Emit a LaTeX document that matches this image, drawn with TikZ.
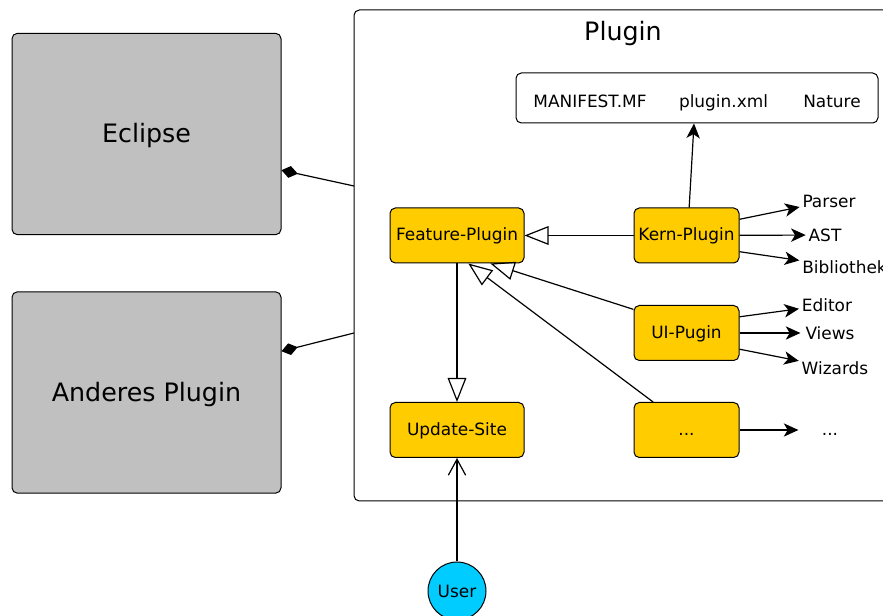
\documentclass[tikz,border=0pt]{standalone}
\usepackage{fontspec}
\setmainfont{DejaVu Sans}
\usetikzlibrary{arrows.meta}

\definecolor{boxgold}{HTML}{FFCC00}
\definecolor{boxgrey}{HTML}{C0C0C0}
\definecolor{usercyan}{HTML}{00CCFF}

\tikzset{
  bigbox/.style={draw=black, fill=boxgrey, rounded corners=4pt, line width=0.75pt,
    minimum width=201.75pt, minimum height=151pt, text height=13.9pt, text depth=1.1pt,
    font=\fontsize{19}{23}\selectfont},
  module/.style={draw=black, fill=boxgold, rounded corners=4pt, line width=0.75pt,
    minimum height=41.25pt, text height=9.5pt, text depth=1.3pt, inner sep=0pt,
    font=\fontsize{12.7}{15}\selectfont},
  leaf/.style={inner sep=2pt, font=\fontsize{12.7}{15}\selectfont},
  gen/.style={-{Triangle[open,length=18pt,width=14pt]}, line width=0.9pt},
  sub/.style={-{Stealth[length=11pt,width=10pt,inset=3pt]}, line width=0.9pt},
  comp/.style={-{Diamond[length=12.5pt,width=9pt]}, line width=0.9pt},
  access/.style={-{Straight Barb[length=12pt,width=13pt]}, line width=0.9pt}
}

\begin{document}
\begin{tikzpicture}[x=0.75pt, y=-0.75pt]
    \useasboundingbox (0,0) rectangle (883,616);

    %outer boxes
    \node[bigbox] (eclipse) at (146.5,134) {Eclipse};
    \node[bigbox] (anderes) at (146.5,392.5) {Anderes Plugin};

    %plugin container
    \draw[rounded corners=4pt, line width=0.75pt] (354,10) rectangle (910,501);
    \node[font=\fontsize{19}{23}\selectfont] (title) at (623,34) {Plugin};
    \coordinate (c1) at (354,186);
    \coordinate (c2) at (354,333);
    \draw[comp] (c1) -- (eclipse.-15);
    \draw[comp] (c2) -- (anderes.17);

    %manifest
    \node[draw=black, rounded corners=4pt, line width=0.75pt, minimum width=271.5pt, minimum height=37.5pt] (manifest) at (697,98) {};
    \node[leaf, anchor=base] (mf) at (590,108) {MANIFEST.MF};
    \node[leaf, anchor=base] (xml) at (723.5,108) {plugin.xml};
    \node[leaf, anchor=base] (nature) at (832,108) {Nature};

    %modules
    \node[module, minimum width=100.5pt] (feature) at (457,235.5) {Feature-Plugin};
    \node[module, minimum width=100.5pt] (update) at (457,430) {Update-Site};
    \node[module, minimum width=78.75pt] (kern) at (686.5,235.5) {Kern-Plugin};
    \node[module, minimum width=78.75pt] (ui) at (686.5,333) {UI-Pugin};
    \node[module, minimum width=78.75pt] (more) at (686.5,430) {...};
    \node[circle, draw=black, fill=usercyan, line width=0.75pt, minimum size=43.5pt, inner sep=0pt,
      font=\fontsize{12.7}{15}\selectfont] (user) at (457,591) {User};

    \draw[gen] (kern) -- (feature);
    \draw[gen] (ui.156) -- (feature.-40);
    \draw[gen] (more.140) -- (feature.-68);
    \draw[gen] (feature) -- (update);
    \draw[access] (user) -- (update);
    \draw[sub] ([xshift=2pt]kern.north) -- ([xshift=-2.25pt]manifest.south);

    %leaves
    \node[leaf] (parser) at (829,201) {Parser};
    \node[leaf] (ast) at (825,235) {AST};
    \node[leaf] (bib) at (844.5,267) {Bibliothek};
    \node[leaf] (editor) at (827,305) {Editor};
    \node[leaf, minimum width=44pt] (views) at (830,333) {Views};
    \node[leaf] (wizards) at (835,368) {Wizards};
    \node[leaf, minimum width=47pt, text height=9.5pt, text depth=1.3pt] (dots) at (830,430) {...};

    \draw[sub] (kern.17) -- (parser);
    \draw[sub] (kern) -- (ast);
    \draw[sub] (kern.-17) -- (bib);
    \draw[sub] (ui.17) -- (editor);
    \draw[sub] (ui) -- (views);
    \draw[sub] (ui.-17) -- (wizards);
    \draw[sub] (more) -- (dots);
\end{tikzpicture}
\end{document}
